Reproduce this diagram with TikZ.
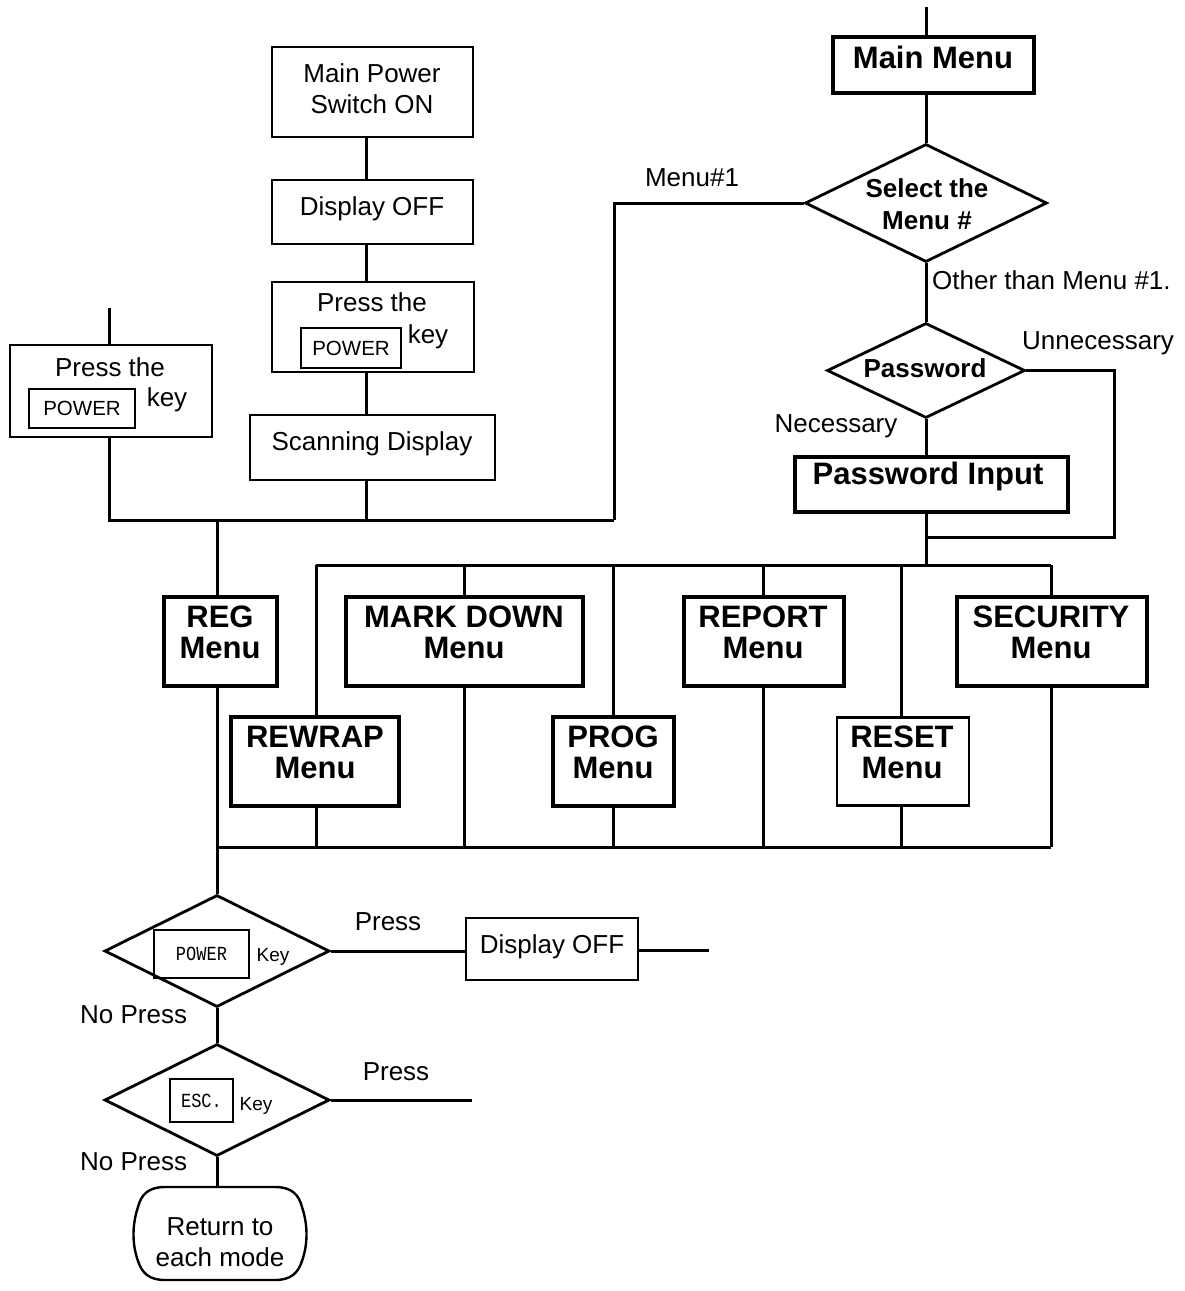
\documentclass[tikz,border=0pt]{standalone}
\usepackage{fontspec}
\setmainfont{Liberation Sans}
\newfontfamily\keymono{Liberation Mono}
\usetikzlibrary{shapes.geometric}
\newcommand\fsreg{\fontsize{26}{31}\selectfont}
\newcommand\fssmall{\fontsize{20.5}{24}\selectfont}
\newcommand\fskeyw{\fontsize{19}{23}\selectfont}
\newcommand\fsbold{\fontsize{31}{31}\selectfont\bfseries}
\newcommand\fsdia{\fontsize{26}{32}\selectfont\bfseries}
\newcommand\condkey[1]{\scalebox{0.85}[1]{\fontsize{20}{24}\selectfont\keymono #1}}
\begin{document}
\begin{tikzpicture}[x=1pt,y=-1pt,
  conn/.style={line width=3pt},
  thinbox/.style={draw, line width=2.4pt, inner sep=0pt},
  thickbox/.style={draw, line width=4.8pt, inner sep=0pt},
  keybox/.style={draw, line width=2.4pt, inner sep=0pt, font=\fssmall},
  dia/.style={draw, diamond, line width=2.8pt, inner sep=0pt},
  txt/.style={inner sep=0pt, align=center}]
\useasboundingbox (0,0) rectangle (1184,1291);

% ---------- right column ----------
\coordinate (cR) at (926,0);
\coordinate (topin) at (926,7);
\node[thickbox, minimum width=201pt, minimum height=56pt] (mm) at (933.5,65) {};
\node[txt, font=\fsbold] (mmT) at (933,57) {Main Menu};
\node[dia, minimum width=242pt, minimum height=118pt] (sel) at (926,203) {};
\node[txt, font=\fsdia] (selT) at (927,204) {Select the\\Menu \#};
\node[txt, font=\fsreg] (m1L) at (692,178) {Menu\#1};
\node[txt, font=\fsreg, anchor=west] (othL) at (932,280) {Other than Menu \#1.};
\node[dia, minimum width=198pt, minimum height=95pt] (pw) at (926,370.5) {};
\node[txt, font=\fsdia] (pwT) at (925,368) {Password};
\node[txt, font=\fsreg, anchor=west] (unL) at (1022,343) {Unnecessary};
\node[txt, font=\fsreg] (neL) at (836,426) {Necessary};
\node[thickbox, minimum width=273pt, minimum height=55pt] (pin) at (931.5,484.5) {};
\node[txt, font=\fsbold] (pinT) at (928,476) {Password Input};

\coordinate (j1) at (614,520);
\coordinate (uR) at (1114,537);
\coordinate (uJ) at (926,537);
\coordinate (busP) at (926,565);
\draw[conn] (topin) -- (mm.north -| cR);
\draw[conn] (mm.south -| cR) -- (sel.north);
\draw[conn] (sel.west) -| (j1);
\draw[conn] (sel.south) -- (pw.north);
\draw[conn] (pw.south) -- (pin.north -| cR);
\draw[conn] (pw.east) -| (uR) -- (uJ);
\draw[conn] (pin.south -| cR) -- (busP);

% ---------- middle column ----------
\coordinate (cM) at (366,0);
\node[thinbox, minimum width=201pt, minimum height=90pt] (mp) at (372.5,92) {};
\node[txt, font=\fsreg] (mpT) at (372,89) {Main Power\\Switch ON};
\node[thinbox, minimum width=201pt, minimum height=64pt] (doffA) at (372.5,212) {};
\node[txt, font=\fsreg] (doffAT) at (372,209) {Display OFF};
\node[thinbox, minimum width=202pt, minimum height=90pt] (prA) at (373,327) {};
\node[txt, font=\fsreg] (prAT) at (372,302) {Press the};
\node[keybox, minimum width=100pt, minimum height=40pt] (prAK) at (351,348) {POWER};
\node[txt, font=\fsreg] (prAk) at (428,337) {key};
\node[thinbox, minimum width=245pt, minimum height=65pt] (scan) at (372.5,447.5) {};
\node[txt, font=\fsreg] (scanT) at (372,444) {Scanning Display};
\coordinate (jS) at (366,520);
\draw[conn] (mp.south -| cM) -- (doffA.north -| cM);
\draw[conn] (doffA.south -| cM) -- (prA.north -| cM);
\draw[conn] (prA.south -| cM) -- (scan.north -| cM);
\draw[conn] (scan.south -| cM) -- (jS);

% ---------- left column ----------
\coordinate (cL) at (109,0);
\coordinate (lin) at (109,308);
\node[thinbox, minimum width=202pt, minimum height=92pt] (prB) at (111,391) {};
\node[txt, font=\fsreg] (prBT) at (110,367) {Press the};
\node[keybox, minimum width=106pt, minimum height=39pt] (prBK) at (82,408.5) {POWER};
\node[txt, font=\fsreg] (prBk) at (167,400) {key};
\coordinate (jL) at (109,520);
\draw[conn] (lin) -- (prB.north -| cL);
\draw[conn] (prB.south -| cL) -- (jL) -- (j1);

% ---------- menus ----------
\coordinate (cT) at (217,0);
\coordinate (jT) at (217,520);
\node[thickbox, minimum width=113pt, minimum height=89pt] (reg) at (220.5,641.5) {};
\node[txt, font=\fsbold] (regT) at (220,632) {REG\\Menu};
\node[thickbox, minimum width=237pt, minimum height=89pt] (mark) at (464.5,641.5) {};
\node[txt, font=\fsbold] (markT) at (464,632) {MARK DOWN\\Menu};
\node[thickbox, minimum width=160pt, minimum height=89pt] (rep) at (764,641.5) {};
\node[txt, font=\fsbold] (repT) at (763,632) {REPORT\\Menu};
\node[thickbox, minimum width=190pt, minimum height=89pt] (sec) at (1052,641.5) {};
\node[txt, font=\fsbold] (secT) at (1051,632) {SECURITY\\Menu};
\node[thickbox, minimum width=168pt, minimum height=89pt] (rew) at (315,761.5) {};
\node[txt, font=\fsbold] (rewT) at (315,752) {REWRAP\\Menu};
\node[thickbox, minimum width=121pt, minimum height=89pt] (prog) at (613.5,761.5) {};
\node[txt, font=\fsbold] (progT) at (613,752) {PROG\\Menu};
\node[thinbox, minimum width=132pt, minimum height=88pt] (rst) at (903,761.5) {};
\node[txt, font=\fsbold] (rstT) at (902,752) {RESET\\Menu};

\draw[conn] (jT) -- (reg.north -| cT);
\foreach \n/\x in {rew/316, mark/464, prog/613, rep/763, rst/901, sec/1051}{
  \coordinate (t-\n) at (\x,565);
  \coordinate (b-\n) at (\x,847);
  \draw[conn] (t-\n) -- (\n.north -| t-\n);
  \draw[conn] (\n.south -| t-\n) -- (b-\n);
}
\draw[conn] (t-rew) -- (t-sec);
\coordinate (cB) at (217,847);
\draw[conn] (cB) -- (b-sec);

% ---------- bottom ----------
\node[dia, minimum width=225pt, minimum height=112pt] (kdA) at (217,951) {};
\node[keybox, minimum width=95pt, minimum height=48pt] (kdAK) at (201.5,954) {\condkey{POWER}};
\node[txt, font=\fskeyw] (kdAk) at (273,957) {Key};
\node[txt, font=\fsreg] (pAL) at (388,922) {Press};
\node[thinbox, minimum width=172pt, minimum height=62pt] (doffB) at (552,949) {};
\node[txt, font=\fsreg] (doffBT) at (552,947) {Display OFF};
\coordinate (dBout) at (709,950);
\node[txt, font=\fsreg, anchor=west] (npAL) at (80,1015) {No Press};
\node[dia, minimum width=225pt, minimum height=112pt] (kdB) at (217,1100) {};
\node[keybox, minimum width=63pt, minimum height=43pt] (kdBK) at (201.5,1100.5) {\condkey{ESC.}};
\node[txt, font=\fskeyw] (kdBk) at (256,1106) {Key};
\node[txt, font=\fsreg] (pBL) at (396,1072) {Press};
\coordinate (eBout) at (472,1100);
\node[txt, font=\fsreg, anchor=west] (npBL) at (80,1162) {No Press};
% terminal shape: straight top and bottom, rounded corners, bulging sides
\node[inner sep=0pt, minimum width=176pt, minimum height=93pt] (ret) at (220,1233.5) {};
\draw[line width=2.4pt] (165,1187) -- (275,1187)
  .. controls (292,1187) and (299,1195) .. (302,1207)
  .. controls (308,1225) and (308,1244) .. (302,1261)
  .. controls (298,1273) and (291,1280) .. (275,1280)
  -- (165,1280)
  .. controls (149,1280) and (142,1273) .. (138,1261)
  .. controls (132,1244) and (132,1225) .. (138,1207)
  .. controls (141,1195) and (148,1187) .. (165,1187) -- cycle;
\node[txt, font=\fsreg] (retT) at (220,1242) {Return to\\each mode};

\draw[conn] (reg.south -| cT) -- (kdA.north);
\draw[conn] (kdA.east) -- (doffB.west |- kdA.east);
\draw[conn] (doffB.east |- dBout) -- (dBout);
\draw[conn] (kdA.south) -- (kdB.north);
\draw[conn] (kdB.east) -- (eBout);
\draw[conn] (kdB.south) -- (kdB.south |- ret.north);
\end{tikzpicture}
\end{document}
